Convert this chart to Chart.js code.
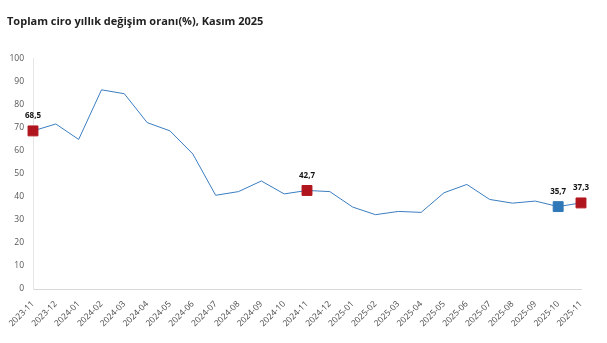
<!DOCTYPE html>
<html>
<head>
<meta charset="utf-8">
<script src="https://cdn.jsdelivr.net/npm/chart.js@4.4.1/dist/chart.umd.min.js"></script>
<style>
  html, body { margin: 0; padding: 0; background: #fff; }
  #wrap { width: 607px; height: 343px; position: relative; }
</style>
</head>
<body>
<div id="wrap"><canvas id="chart"></canvas></div>
<script>
const months = [
    '2023-11', '2023-12', '2024-01', '2024-02', '2024-03', '2024-04', '2024-05',
    '2024-06', '2024-07', '2024-08', '2024-09', '2024-10', '2024-11', '2024-12',
    '2025-01', '2025-02', '2025-03', '2025-04', '2025-05', '2025-06', '2025-07',
    '2025-08', '2025-09', '2025-10', '2025-11'
];

const ciroChange = [
    68.5, 71.5, 64.8, 86.3, 84.6, 72.1, 68.5,
    58.5, 40.6, 42.2, 46.8, 41.2, 42.7, 42.2,
    35.5, 32.2, 33.6, 33.2, 41.7, 45.3, 38.8,
    37.2, 38.1, 35.7, 37.3
];

const yTicks = [0, 10, 20, 30, 40, 50, 60, 70, 80, 90, 100];

const redMonths = ['2023-11', '2024-11', '2025-11'];
const blueMonths = ['2025-10'];

const LINE_COLOR = '#3b7dc0';
const RED = '#b0151e';
const BLUE = '#2f78b8';

function markColor(m) {
    if (redMonths.includes(m)) return RED;
    if (blueMonths.includes(m)) return BLUE;
    return LINE_COLOR;
}

function isMarked(m) {
    return redMonths.includes(m) || blueMonths.includes(m);
}

// labels above the highlighted points
const pointLabels = {
    id: 'pointLabels',
    afterDatasetsDraw(chart) {
        const ctx = chart.ctx;
        const meta = chart.getDatasetMeta(0);
        ctx.save();
        ctx.font = 'bold 8px "Open Sans", sans-serif';
        ctx.fillStyle = '#111';
        ctx.textAlign = 'center';
        ctx.textBaseline = 'bottom';
        meta.data.forEach((pt, i) => {
            if (!isMarked(months[i])) return;
            const txt = ciroChange[i].toFixed(1).replace('.', ',');
            ctx.fillText(txt, pt.x, pt.y - 11);
        });
        ctx.restore();
    }
};

new Chart(document.getElementById('chart'), {
    type: 'line',
    data: {
        labels: months,
        datasets: [{
            data: ciroChange,
            borderColor: LINE_COLOR,
            borderWidth: 1,
            tension: 0,
            pointStyle: 'rect',
            pointRadius: months.map(m => isMarked(m) ? 7 : 0),
            pointHoverRadius: months.map(m => isMarked(m) ? 7 : 0),
            pointBackgroundColor: months.map(markColor),
            pointBorderColor: months.map(markColor),
            pointBorderWidth: 1
        }]
    },
    options: {
        responsive: true,
        maintainAspectRatio: false,
        animation: false,
        layout: {
            padding: { left: 7, right: 26, top: 0, bottom: 4 }
        },
        plugins: {
            legend: { display: false },
            tooltip: { enabled: false },
            title: {
                display: true,
                text: 'Toplam ciro yıllık değişim oranı(%), Kasım 2025',
                align: 'start',
                color: '#222',
                font: { family: '"Open Sans", sans-serif', size: 11, weight: 'bold' },
                padding: { top: 15, bottom: 30 }
            }
        },
        scales: {
            x: {
                offset: false,
                grid: { display: false, drawTicks: false },
                border: { color: '#d9d9d9', width: 1 },
                afterFit(scale) { scale.height = 50; },
                ticks: {
                    color: '#444',
                    font: { family: '"Open Sans", sans-serif', size: 8.5 },
                    maxRotation: 45,
                    minRotation: 45,
                    autoSkip: false,
                    padding: 10
                }
            },
            y: {
                min: 0,
                max: 100,
                afterBuildTicks(scale) {
                    scale.ticks = yTicks.map(v => ({ value: v }));
                },
                afterFit(scale) { scale.width = 26; },
                grid: { display: false, drawTicks: false },
                border: { color: '#e6e6e6', width: 1 },
                ticks: {
                    color: '#555',
                    font: { family: '"Open Sans", sans-serif', size: 8.5 },
                    padding: 9
                }
            }
        }
    },
    plugins: [pointLabels]
});
</script>
</body>
</html>
